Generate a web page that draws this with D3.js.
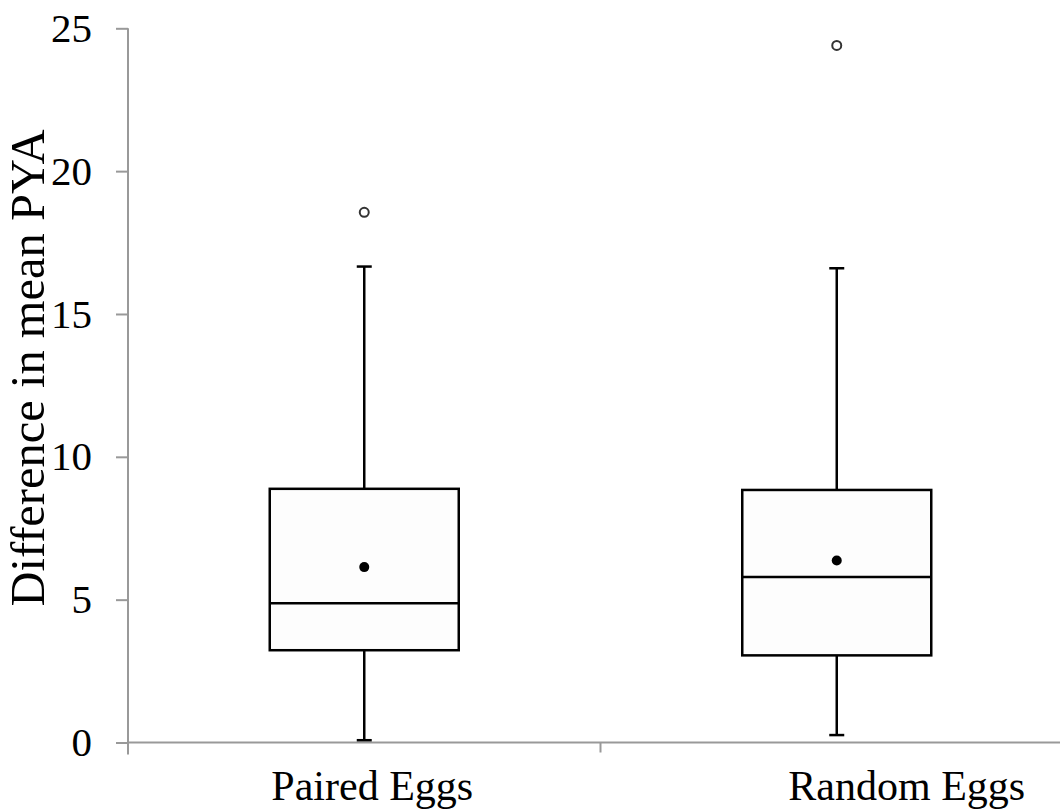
<!DOCTYPE html>
<html>
<head>
<meta charset="utf-8">
<script src="https://cdn.jsdelivr.net/npm/d3@7"></script>
<style>
  html, body { margin: 0; padding: 0; background: #fff; }
  svg { display: block; }
</style>
</head>
<body>
<svg width="1060" height="809"></svg>
<script>
var categories = ["Paired Eggs", "Random Eggs"];
var whiskerLow = [0.08, 0.26];
var q1 = [3.23, 3.05];
var median = [4.87, 5.79];
var q3 = [8.88, 8.84];
var whiskerHigh = [16.66, 16.60];
var means = [6.14, 6.37];
var outliers = [[18.56], [24.40]];
var yTicks = [0, 5, 10, 15, 20, 25];
var yTitle = "Difference in mean PYA";

var svg = d3.select("svg"),
    width = +svg.attr("width"),
    height = +svg.attr("height");

var font = "'Liberation Serif', 'Times New Roman', serif";
var axisColor = "#999";

var x = d3.scaleBand()
    .domain(categories)
    .range([128, 1073])
    .padding(0);

var y = d3.scaleLinear()
    .domain([0, 25])
    .range([742.5, 28.3]);

var boxes = categories.map(function(c, i) {
    return {
        cat: c,
        lo: whiskerLow[i], q1: q1[i], med: median[i], q3: q3[i], hi: whiskerHigh[i],
        mean: means[i], out: outliers[i]
    };
});

// y axis
var yAxis = svg.append("g")
    .attr("transform", "translate(" + x.range()[0] + ",0)")
    .call(d3.axisLeft(y).tickValues(yTicks).tickSize(12).tickPadding(24).tickSizeOuter(0));
yAxis.select(".domain").remove();
yAxis.selectAll(".tick line").attr("stroke", axisColor).attr("stroke-width", 2);
yAxis.selectAll(".tick text")
    .attr("font-family", font)
    .attr("font-size", 41)
    .attr("fill", "#000");
svg.append("line")
    .attr("x1", x.range()[0]).attr("x2", x.range()[0])
    .attr("y1", y(25)).attr("y2", y(0) + 12)
    .attr("stroke", axisColor).attr("stroke-width", 2);

// x axis
svg.append("line")
    .attr("x1", x.range()[0]).attr("x2", width)
    .attr("y1", y(0)).attr("y2", y(0))
    .attr("stroke", axisColor).attr("stroke-width", 2);
svg.append("g").selectAll("line")
    .data(categories.slice(1))
    .enter().append("line")
    .attr("x1", function(d) { return x(d); })
    .attr("x2", function(d) { return x(d); })
    .attr("y1", y(0))
    .attr("y2", y(0) + 10)
    .attr("stroke", axisColor).attr("stroke-width", 2);

// category labels sit a little right of the box centres in the original
var labelShift = [8, 70];
svg.append("g").selectAll("text")
    .data(categories)
    .enter().append("text")
    .attr("x", function(d, i) { return x(d) + x.bandwidth() / 2 + labelShift[i]; })
    .attr("y", 800)
    .attr("text-anchor", "middle")
    .attr("font-family", font)
    .attr("font-size", 42)
    .text(function(d) { return d; });

svg.append("text")
    .attr("transform", "translate(44," + 368 + ") rotate(-90)")
    .attr("text-anchor", "middle")
    .attr("font-family", font)
    .attr("font-size", 48.5)
    .text(yTitle);

// boxes
var bw = x.bandwidth() * 0.4;
var capW = 15;
var g = svg.append("g")
    .attr("stroke", "#000")
    .attr("stroke-width", 2.5);

var box = g.selectAll("g.box")
    .data(boxes)
    .enter().append("g")
    .attr("class", "box")
    .attr("transform", function(d) { return "translate(" + (x(d.cat) + x.bandwidth() / 2) + ",0)"; });

box.append("line")
    .attr("x1", 0).attr("x2", 0)
    .attr("y1", function(d) { return y(d.hi); })
    .attr("y2", function(d) { return y(d.q3); });
box.append("line")
    .attr("x1", 0).attr("x2", 0)
    .attr("y1", function(d) { return y(d.q1); })
    .attr("y2", function(d) { return y(d.lo); });
box.append("line")
    .attr("x1", -capW / 2).attr("x2", capW / 2)
    .attr("y1", function(d) { return y(d.hi); })
    .attr("y2", function(d) { return y(d.hi); });
box.append("line")
    .attr("x1", -capW / 2).attr("x2", capW / 2)
    .attr("y1", function(d) { return y(d.lo); })
    .attr("y2", function(d) { return y(d.lo); });
box.append("rect")
    .attr("x", -bw / 2)
    .attr("width", bw)
    .attr("y", function(d) { return y(d.q3); })
    .attr("height", function(d) { return y(d.q1) - y(d.q3); })
    .attr("fill", "#fdfdfd");
box.append("line")
    .attr("x1", -bw / 2).attr("x2", bw / 2)
    .attr("y1", function(d) { return y(d.med); })
    .attr("y2", function(d) { return y(d.med); });
box.append("circle")
    .attr("cx", 0)
    .attr("cy", function(d) { return y(d.mean); })
    .attr("r", 5)
    .attr("stroke", "none")
    .attr("fill", "#000");
box.selectAll("circle.out")
    .data(function(d) { return d.out; })
    .enter().append("circle")
    .attr("class", "out")
    .attr("cx", 0)
    .attr("cy", function(d) { return y(d); })
    .attr("r", 4.5)
    .attr("fill", "#fff")
    .attr("stroke", "#333")
    .attr("stroke-width", 2);
</script>
</body>
</html>
